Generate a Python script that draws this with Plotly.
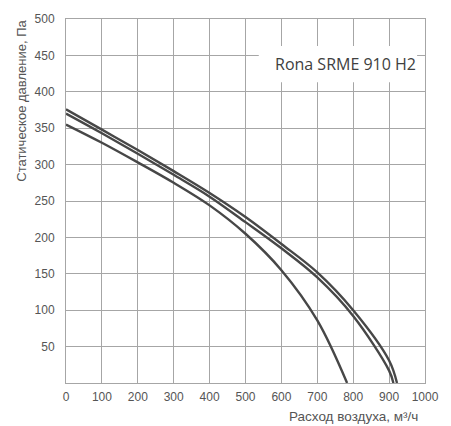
import plotly.graph_objects as go

# Data
flow_top = [0, 100, 200, 300, 400, 500, 600, 700, 800, 900, 922]
pres_top = [376, 348, 320, 291, 261, 228, 191, 152, 100, 31, 0]

flow_mid = [0, 100, 200, 300, 400, 500, 600, 700, 800, 900, 912]
pres_mid = [370, 343, 315, 286, 256, 221, 185, 145, 92, 17, 0]

flow_low = [0, 100, 200, 300, 400, 500, 600, 700, 783]
pres_low = [355, 330, 303, 275, 244, 205, 155, 86, 0]

x_ticks = [0, 100, 200, 300, 400, 500, 600, 700, 800, 900, 1000]
y_ticks = [50, 100, 150, 200, 250, 300, 350, 400, 450, 500]

legend_text = "Rona SRME 910 H2"
x_title = "Расход воздуха, м³/ч"
y_title = "Статическое давление, Па"

LINE_COLOR = "#474747"
GRID_COLOR = "#a6a6a6"
TEXT_COLOR = "#555555"

fig = go.Figure()
for fx, py in [(flow_top, pres_top), (flow_mid, pres_mid), (flow_low, pres_low)]:
    fig.add_trace(go.Scatter(
        x=fx, y=py, mode="lines",
        line=dict(color=LINE_COLOR, width=2.4, shape="spline", smoothing=1.0),
        showlegend=False, hoverinfo="x+y",
    ))

axis_common = dict(
    showgrid=True, gridcolor=GRID_COLOR, gridwidth=1,
    showline=True, linecolor=GRID_COLOR, linewidth=1, mirror=True,
    zeroline=False, ticks="", fixedrange=True,
    tickfont=dict(family="Liberation Sans, Arial, sans-serif", size=12, color=TEXT_COLOR),
)

fig.update_xaxes(range=[0, 1000], tickvals=x_ticks, ticktext=[str(v) for v in x_ticks],
                 ticklabelstandoff=3, **axis_common)
fig.update_yaxes(range=[0, 500], tickvals=y_ticks, ticktext=[str(v) for v in y_ticks],
                 ticklabelstandoff=8, **axis_common)

fig.add_shape(type="rect", xref="x", yref="y", x0=537, x1=978, y0=413, y1=463,
              fillcolor="white", line=dict(width=0), layer="above")

fig.add_annotation(x=778, y=438, xref="x", yref="y", text=legend_text, showarrow=False,
                   font=dict(family="Open Sans, sans-serif", size=16, color="#404040"))

fig.add_annotation(x=0.986, y=-0.0926, xref="paper", yref="paper", text=x_title, showarrow=False,
                   xanchor="right", yanchor="middle",
                   font=dict(family="Liberation Sans, Arial, sans-serif", size=13.5, color=TEXT_COLOR))

fig.add_annotation(x=-0.123, y=1.003, xref="paper", yref="paper", text=y_title, showarrow=False,
                   textangle=-90, xanchor="center", yanchor="top",
                   font=dict(family="Liberation Sans, Arial, sans-serif", size=13, color=TEXT_COLOR))

fig.update_layout(
    width=451, height=426,
    margin=dict(l=66, r=18, t=16, b=43),
    plot_bgcolor="white", paper_bgcolor="white",
    showlegend=False,
)

fig.write_html("out.html", config={"displayModeBar": False},
               post_script="document.body.style.margin='0';")
